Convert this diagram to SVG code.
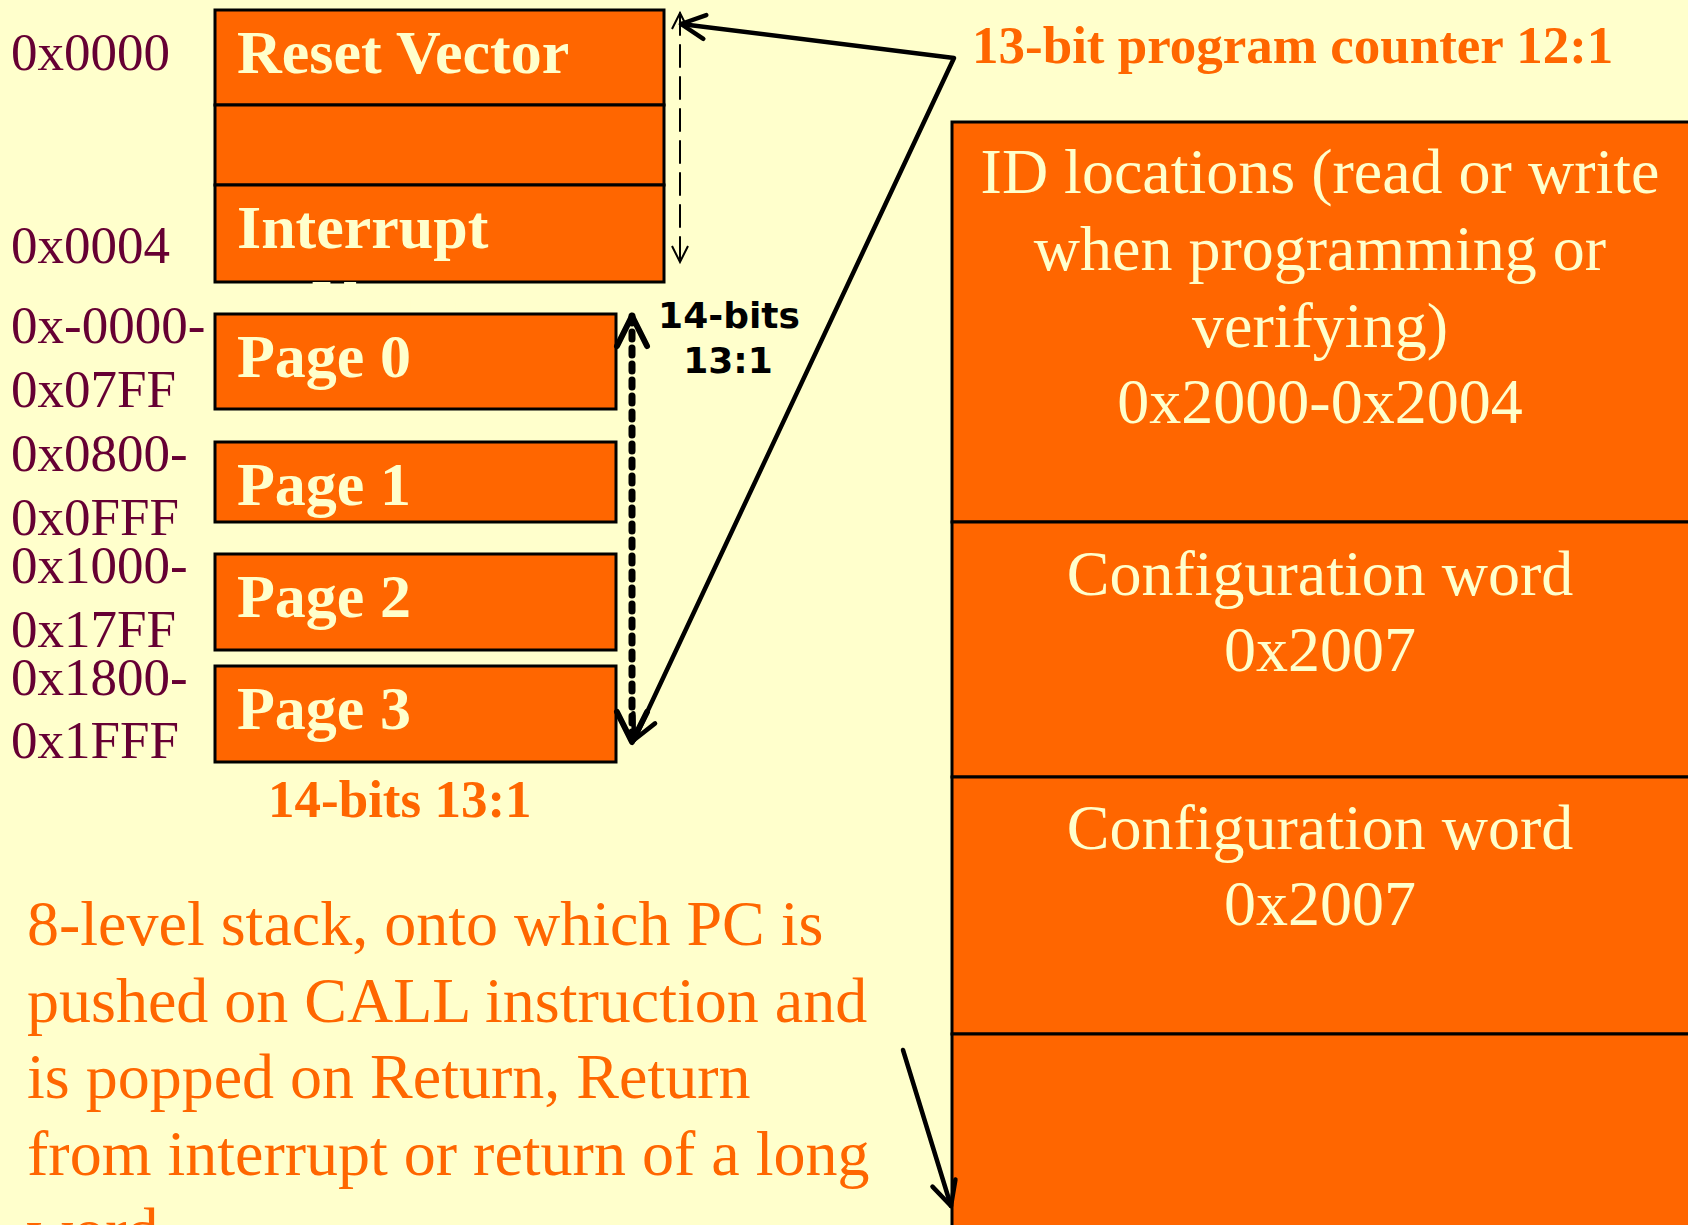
<svg xmlns="http://www.w3.org/2000/svg" width="1688" height="1225" viewBox="0 0 1688 1225">
<style>
.box{fill:#FF6600;stroke:#000;stroke-width:3}
.div{stroke:#000;stroke-width:2.5}
.btxt{font-family:"Liberation Serif","Times New Roman",serif;font-weight:bold;font-size:62px;fill:#FFFFCC}
.addr{font-family:"Liberation Serif","Times New Roman",serif;font-size:53px;fill:#660033}
.rtxt{font-family:"Liberation Serif","Times New Roman",serif;font-size:64px;fill:#FFFFCC;text-anchor:middle}
.otb{font-family:"Liberation Serif","Times New Roman",serif;font-weight:bold;font-size:53px;fill:#FF6600}
.para{font-family:"Liberation Serif","Times New Roman",serif;font-size:64px;fill:#FF6600}
.lbl{font-family:"DejaVu Sans",Verdana,sans-serif;font-weight:bold;font-size:36px;fill:#000;text-anchor:middle}
.conn{fill:none;stroke:#000;stroke-linecap:round;stroke-linejoin:round}
</style>
<defs>
<marker id="chev" markerUnits="userSpaceOnUse" orient="auto-start-reverse" refX="0" refY="0" markerWidth="60" markerHeight="60" viewBox="-40 -30 60 60" overflow="visible">
<path d="M-24,-12 L0,0 L-24,12" fill="none" stroke="#000" stroke-width="4.5" stroke-linecap="round" stroke-linejoin="round"/>
</marker>
<marker id="chevBig" markerUnits="userSpaceOnUse" orient="auto-start-reverse" refX="0" refY="0" markerWidth="60" markerHeight="60" viewBox="-40 -30 60 60" overflow="visible">
<path d="M-30,-15 L0,0 L-30,15" fill="none" stroke="#000" stroke-width="6" stroke-linecap="round" stroke-linejoin="round"/>
</marker>
<marker id="chevThin" markerUnits="userSpaceOnUse" orient="auto-start-reverse" refX="0" refY="0" markerWidth="40" markerHeight="40" viewBox="-20 -20 40 40" overflow="visible">
<path d="M-16,-8 L0,0 L-16,8" fill="none" stroke="#000" stroke-width="2"/>
</marker>
</defs>
<rect width="1688" height="1225" fill="#FFFFCC"/>

<g id="reset-vector">
<rect class="box" x="215" y="10" width="449" height="95"/>
<text class="btxt" x="237" y="73">Reset Vector</text>
</g>
<g id="vector-gap">
<rect class="box" x="215" y="105" width="449" height="80"/>
</g>
<g id="interrupt-vector">
<rect class="box" x="215" y="185" width="449" height="97"/>
<text class="btxt" x="237" y="248">Interrupt</text>
<text class="btxt" x="312" y="322">Vector</text>
</g>

<g id="page0">
<rect class="box" x="215" y="314" width="401" height="95"/>
<text class="btxt" x="237" y="377">Page 0</text>
</g>
<g id="page1">
<rect class="box" x="215" y="442" width="401" height="80"/>
<text class="btxt" x="237" y="505">Page 1</text>
</g>
<g id="page2">
<rect class="box" x="215" y="554" width="401" height="96"/>
<text class="btxt" x="237" y="617">Page 2</text>
</g>
<g id="page3">
<rect class="box" x="215" y="666" width="401" height="96"/>
<text class="btxt" x="237" y="729">Page 3</text>
</g>

<g id="addresses">
<text class="addr" x="11" y="70">0x0000</text>
<text class="addr" x="11" y="263">0x0004</text>
<text class="addr" x="11" y="343">0x-0000-</text>
<text class="addr" x="11" y="407">0x07FF</text>
<text class="addr" x="11" y="471">0x0800-</text>
<text class="addr" x="11" y="535">0x0FFF</text>
<text class="addr" x="11" y="583">0x1000-</text>
<text class="addr" x="11" y="647">0x17FF</text>
<text class="addr" x="11" y="695">0x1800-</text>
<text class="addr" x="11" y="758">0x1FFF</text>
</g>

<g id="id-locations">
<rect class="box" x="952" y="122" width="760" height="400"/>
<text class="rtxt" x="1320" y="193">ID locations (read or write</text>
<text class="rtxt" x="1320" y="270">when programming or</text>
<text class="rtxt" x="1320" y="347">verifying)</text>
<text class="rtxt" x="1320" y="423">0x2000-0x2004</text>
</g>
<g id="config-word-1">
<rect class="box" x="952" y="522" width="760" height="255"/>
<text class="rtxt" x="1320" y="595">Configuration word</text>
<text class="rtxt" x="1320" y="671">0x2007</text>
</g>
<g id="config-word-2">
<rect class="box" x="952" y="777" width="760" height="257"/>
<text class="rtxt" x="1320" y="849">Configuration word</text>
<text class="rtxt" x="1320" y="925">0x2007</text>
</g>
<g id="stack-box">
<rect class="box" x="952" y="1034" width="760" height="220"/>
</g>

<g id="labels">
<text class="otb" x="972" y="63">13-bit program counter 12:1</text>
<text class="otb" x="268" y="817">14-bits 13:1</text>
<text class="lbl" x="729" y="328">14-bits</text>
<text class="lbl" x="728" y="373">13:1</text>
</g>

<g id="stack-note">
<text class="para" x="27" y="945">8-level stack, onto which PC is</text>
<text class="para" x="27" y="1022">pushed on CALL instruction and</text>
<text class="para" x="27" y="1098">is popped on Return, Return</text>
<text class="para" x="27" y="1175">from interrupt or return of a long</text>
<text class="para" x="27" y="1252">word</text>
</g>

<g id="connectors">
<path class="conn" d="M680,13 L680,262" stroke-width="2" stroke-dasharray="22 10" stroke-linecap="butt" marker-start="url(#chevThin)" marker-end="url(#chevThin)"/>
<path class="conn" d="M681,24 L954,58 L634,740" stroke-width="4.5" marker-start="url(#chev)" marker-end="url(#chev)"/>
<path class="conn" d="M632,316 L632,742" stroke-width="7" stroke-dasharray="7 9" stroke-linecap="butt" marker-start="url(#chevBig)" marker-end="url(#chevBig)"/>
<path class="conn" d="M903,1050 L951,1206" stroke-width="4.5" marker-end="url(#chev)"/>
</g>
</svg>
